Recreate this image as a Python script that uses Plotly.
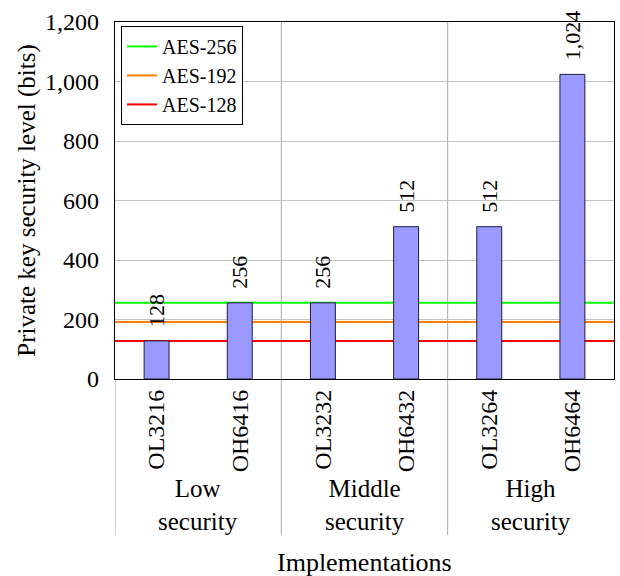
import plotly.graph_objects as go

# Implementations and their private key security levels (bits)
implementations = ["OL3216", "OH6416", "OL3232", "OH6432", "OL3264", "OH6464"]
security_bits = [128, 256, 256, 512, 512, 1024]

# Security groups (two implementations each)
groups = ["Low<br>security", "Middle<br>security", "High<br>security"]

# AES reference levels
aes_names = ["AES-256", "AES-192", "AES-128"]
aes_levels = [256, 192, 128]
aes_colors = ["#00ff00", "#ff8000", "#ff0000"]

y_ticks = [0, 200, 400, 600, 800, 1000, 1200]

FONT = "Liberation Serif"
x_pos = list(range(len(implementations)))
x_lo, x_hi = -0.5, len(implementations) - 0.5

fig = go.Figure()

# legend entries for the AES levels (the lines themselves are shapes below the bars)
for name, color in zip(aes_names, aes_colors):
    fig.add_trace(go.Scatter(x=[None], y=[None], mode="lines", name=name,
                             line=dict(color=color, width=2)))

fig.add_trace(go.Bar(
    x=x_pos, y=security_bits, width=0.3,
    marker=dict(color="#9999ff", line=dict(color="#1e1e40", width=1)),
    text=security_bits, texttemplate="\u00a0\u00a0%{y:,}",
    textposition="outside", textangle=-90, constraintext="none",
    textfont=dict(family=FONT, size=22, color="black"),
    cliponaxis=False, showlegend=False,
))

shapes = []
for lvl, color in zip(aes_levels, aes_colors):
    shapes.append(dict(type="line", xref="x", yref="y", x0=x_lo, x1=x_hi,
                       y0=lvl, y1=lvl, layer="between",
                       line=dict(color=color, width=2)))

# group separators, reaching down through the group labels
for xv in [x_lo, 1.5, 3.5]:
    shapes.append(dict(type="line", xref="x", yref="paper", x0=xv, x1=xv,
                       y0=-0.437, y1=1 if xv != x_lo else 0, layer="between",
                       line=dict(color="#a8a8a8", width=1)))

annotations = []
for i, g in enumerate(groups):
    annotations.append(dict(x=2 * i + 0.5, y=-0.352, xref="x", yref="paper",
                            text=g, showarrow=False, xanchor="center", yanchor="middle",
                            font=dict(family=FONT, size=25, color="black")))
annotations.append(dict(x=0.5, y=-0.515, xref="paper", yref="paper",
                        text="Implementations", showarrow=False,
                        xanchor="center", yanchor="middle",
                        font=dict(family=FONT, size=26, color="black")))

fig.update_layout(
    width=620, height=576,
    margin=dict(l=115, r=6, t=22, b=197),
    paper_bgcolor="white", plot_bgcolor="white",
    font=dict(family=FONT, size=24, color="black"),
    shapes=shapes, annotations=annotations,
    legend=dict(x=0.012, y=0.989, xanchor="left", yanchor="top",
                bgcolor="white", bordercolor="black", borderwidth=1,
                font=dict(family=FONT, size=20), tracegroupgap=0),
    xaxis=dict(range=[x_lo, x_hi], tickmode="array", tickvals=x_pos,
               ticktext=implementations, tickangle=-90, showgrid=False,
               showline=True, linecolor="black", linewidth=1.2, mirror=True,
               ticks="", tickfont=dict(family=FONT, size=24), zeroline=False),
    yaxis=dict(range=[0, 1200], tickmode="array", tickvals=y_ticks,
               tickformat=",", showgrid=True, gridcolor="#c4c4c4", gridwidth=1,
               showline=True, linecolor="black", linewidth=1.2, mirror=True,
               ticks="", zeroline=False, tickfont=dict(family=FONT, size=24),
               ticklabelstandoff=10,
               title=dict(text="Private key security level (bits)",
                          font=dict(family=FONT, size=25), standoff=2)),
)

fig.write_html("out.html")
